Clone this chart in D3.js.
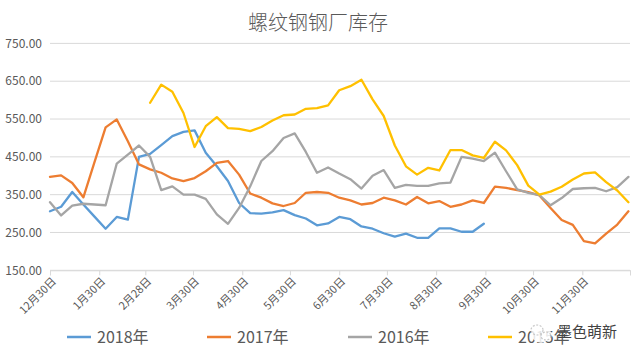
<!DOCTYPE html>
<html><head><meta charset="utf-8">
<script src="https://cdn.jsdelivr.net/npm/d3@7/dist/d3.min.js"></script>
<style>
html,body{margin:0;padding:0;background:#fff;}
svg{display:block;}
text{font-family:"Noto Sans CJK SC","Microsoft YaHei",sans-serif;}
</style></head>
<body>
<svg id="chart" width="637" height="360"></svg>
<script>
const title = "螺纹钢钢厂库存";
const yTicks = [150, 250, 350, 450, 550, 650, 750];
const tickLabels = ["12月30日","1月30日","2月28日","3月30日","4月30日","5月30日","6月30日","7月30日","8月30日","9月30日","10月30日","11月30日",""];
const tickDays = [0,31,60,90,121,151,182,212,243,274,304,335,365];
const daysPerPoint = 7;

const seriesNames = ["2018年","2017年","2016年","2015年"];
const seriesColors = ["#5B9BD5","#ED7D31","#A5A5A5","#FFC000"];

const v2018 = [306,318,357,324,292,260,291,284,450,458,481,505,516,520,461,425,386,328,301,300,303,309,296,287,269,274,291,285,266,260,248,239,247,236,236,261,261,252,252,273];
const v2017 = [397,401,381,343,436,528,549,491,430,417,408,393,386,394,412,434,439,403,353,342,327,320,328,355,357,355,342,335,324,328,342,335,324,344,327,333,318,324,335,328,371,368,362,357,348,315,283,270,227,221,247,271,306];
const v2016 = [330,295,321,326,324,322,432,456,480,450,362,372,350,350,339,298,273,315,372,439,465,500,512,463,408,422,406,391,366,400,415,368,376,373,373,380,382,450,445,439,461,412,364,355,349,322,341,365,367,368,359,370,397];
const v2015 = [null,null,null,null,null,null,null,null,null,593,641,622,566,476,531,555,526,524,518,529,546,560,562,577,579,586,626,637,654,602,558,480,425,403,421,414,468,468,454,447,490,467,428,374,350,358,371,390,406,409,383,361,330];
const seriesValues = [v2018, v2017, v2016, v2015];

const svg = d3.select("#chart");
const x = d3.scaleLinear().domain([0, 365]).range([50, 630]);
const y = d3.scaleLinear().domain([150, 750]).range([270.3, 43.4]);

// title
svg.append("text").attr("x", 318).attr("y", 30).attr("text-anchor","middle")
  .attr("font-size", 20).attr("font-weight", 300).attr("fill","#595959").text(title);

// gridlines
svg.append("g").selectAll("line").data(yTicks).join("line")
  .attr("x1", 50).attr("x2", 630)
  .attr("y1", d => y(d)).attr("y2", d => y(d))
  .attr("stroke", "#d9d9d9").attr("stroke-width", 1);

// y labels
svg.append("g").selectAll("text").data(yTicks).join("text")
  .attr("x", 42).attr("y", d => y(d)).attr("dy","0.35em")
  .attr("text-anchor","end").attr("font-size", 12).attr("fill","#595959")
  .text(d => d3.format(".2f")(d));

// x axis via d3.axisBottom
const xAxis = d3.axisBottom(x).tickValues(tickDays).tickSize(5).tickFormat("");
const gx = svg.append("g").attr("transform", `translate(0,${y(150)})`).call(xAxis);
gx.select(".domain").attr("stroke","#d9d9d9");
gx.selectAll(".tick line").attr("stroke","#d9d9d9");

svg.append("g").selectAll("text").data(tickDays).join("text")
  .attr("transform", (d) => `translate(${x(d)+4},${y(150)+9}) rotate(-45)`)
  .attr("text-anchor","end").attr("dy","0.35em")
  .attr("font-size", 11).attr("fill","#595959")
  .text((d,i) => tickLabels[i]);

// lines
const line = d3.line()
  .defined(d => d != null)
  .x((d,i) => x(i * daysPerPoint))
  .y(d => y(d));

seriesValues.forEach((vals, k) => {
  svg.append("path").datum(vals)
    .attr("d", line)
    .attr("fill","none")
    .attr("stroke", seriesColors[k])
    .attr("stroke-width", 2.3)
    .attr("stroke-linejoin","round")
    .attr("stroke-linecap","round");
});

// legend
const legendX = [67, 207, 348, 488];
const lg = svg.append("g");
seriesNames.forEach((n, k) => {
  lg.append("line").attr("x1", legendX[k]).attr("x2", legendX[k]+24)
    .attr("y1", 337).attr("y2", 337)
    .attr("stroke", seriesColors[k]).attr("stroke-width", 2.5);
  lg.append("text").attr("x", legendX[k]+30).attr("y", 337).attr("dy","0.35em")
    .attr("font-size", 16).attr("fill","#595959").text(n);
});

// watermark
const wm = svg.append("g");
wm.append("circle").attr("cx", 541).attr("cy", 333).attr("r", 10)
  .attr("fill","#fff").attr("fill-opacity",0.85);
wm.append("ellipse").attr("cx", 537).attr("cy", 330).attr("rx", 6).attr("ry", 5)
  .attr("fill","none").attr("stroke","#c8c8c8").attr("stroke-width",1.2).attr("stroke-dasharray","2,1.5");
wm.append("ellipse").attr("cx", 546).attr("cy", 336).attr("rx", 5).attr("ry", 4)
  .attr("fill","none").attr("stroke","#c8c8c8").attr("stroke-width",1.2).attr("stroke-dasharray","2,1.5");
wm.append("text").attr("x", 557).attr("y", 332).attr("dy","0.35em")
  .attr("font-size", 15).attr("fill","#444").text("墨色萌新");
</script>
</body></html>
